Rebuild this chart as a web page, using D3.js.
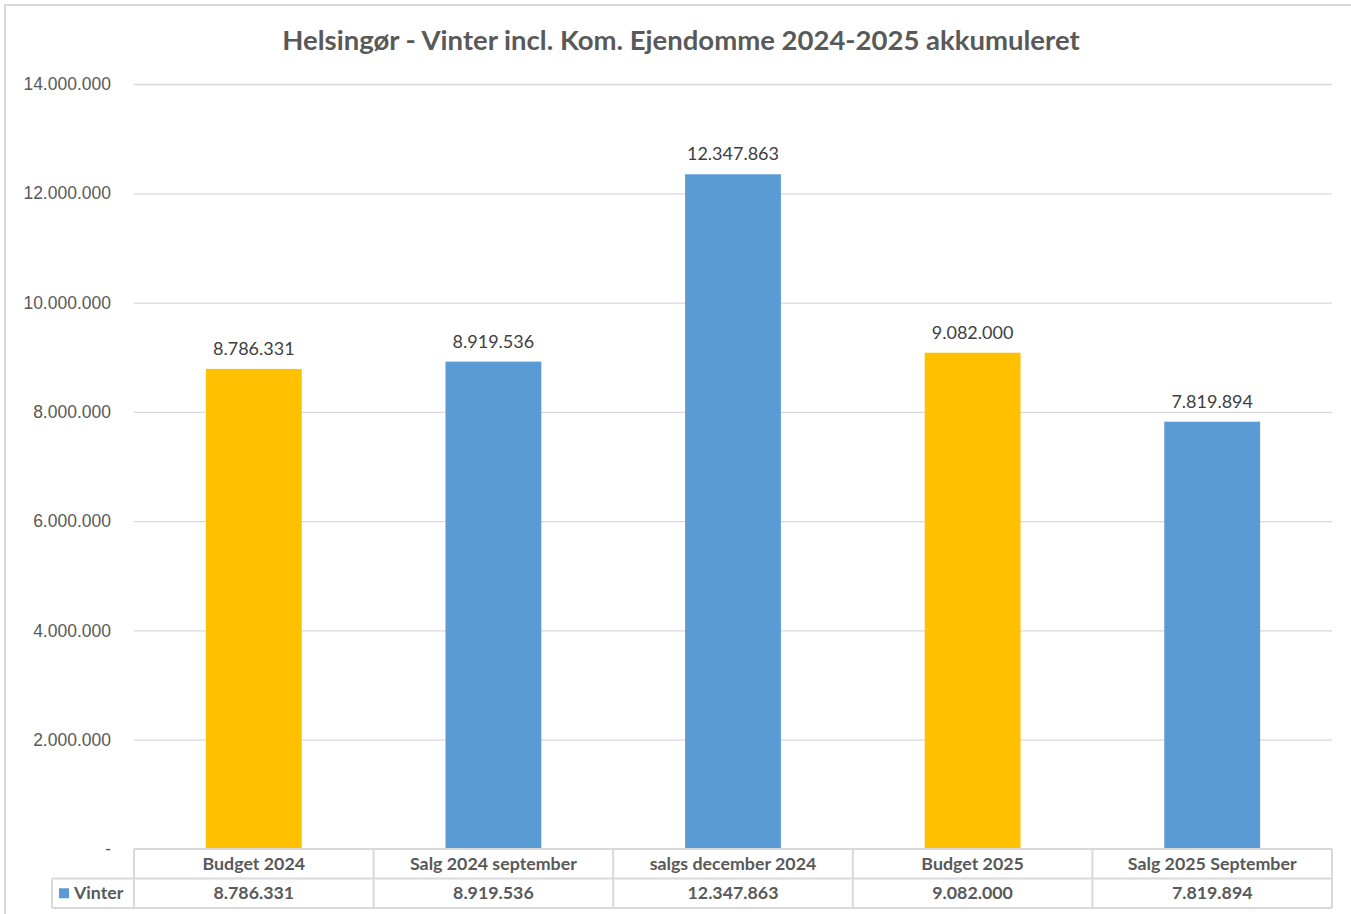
<!DOCTYPE html>
<html>
<head>
<meta charset="utf-8">
<script src="https://cdn.jsdelivr.net/npm/d3@7"></script>
<style>
  body { margin: 0; background: #fff; }
  svg { display: block; font-family: Lato, "Open Sans", sans-serif; }
  .grid line { stroke: #d9d9d9; stroke-width: 1.3; }
  .grid .domain { display: none; }
  .yaxis text { fill: #595959; font-size: 17.5px; }
  .yaxis .domain, .yaxis line { display: none; }
</style>
</head>
<body>
<div class="chart"></div>
<script>
// Chart values
const categories = ["Budget 2024", "Salg 2024 september", "salgs december 2024", "Budget 2025", "Salg 2025 September"];
const values = [8786331, 8919536, 12347863, 9082000, 7819894];
const isBudget = [true, false, false, true, false];
const yTicks = [0, 2000000, 4000000, 6000000, 8000000, 10000000, 12000000, 14000000];
const seriesName = "Vinter";
const title = "Helsingør - Vinter incl. Kom. Ejendomme 2024-2025 akkumuleret";

const width = 1351, height = 914;
const margin = {top: 84, left: 134, right: 19, bottom: 65};
const plotBottom = height - margin.bottom;  // 849
const rowH = 29.5;

const da = d3.formatLocale({decimal: ",", thousands: ".", grouping: [3], currency: ["", " kr"]});
const fmt = v => v === 0 ? "-" : da.format(",.0f")(v);

let svg = d3.select("div.chart")
    .append("svg")
    .attr("width", width)
    .attr("height", height);

// outer chart frame (only top and left visible in the crop)
svg.append("path")
    .attr("d", `M5,${height} V5 H${width}`)
    .attr("fill", "none")
    .attr("stroke", "#d9d9d9")
    .attr("stroke-width", 2);

let x = d3.scaleBand()
    .domain(categories)
    .range([margin.left, width - margin.right])
    .paddingInner(0.6)
    .paddingOuter(0.3);

let xCol = d3.scaleBand()
    .domain(categories)
    .range([margin.left, width - margin.right]);

let y = d3.scaleLinear()
    .domain([0, 14000000])
    .range([plotBottom, margin.top]);

// gridlines
svg.append("g")
    .attr("class", "grid")
    .attr("transform", `translate(${margin.left},0)`)
    .call(d3.axisLeft(y).tickValues(yTicks.slice(1)).tickSize(-(width - margin.left - margin.right)).tickFormat(""));

// y axis labels
svg.append("g")
    .attr("class", "yaxis")
    .attr("transform", `translate(${margin.left - 21},0)`)
    .call(d3.axisLeft(y).tickValues(yTicks).tickSize(0).tickPadding(2).tickFormat(fmt));

// title
svg.append("text")
    .attr("x", 681)
    .attr("y", 50)
    .attr("text-anchor", "middle")
    .attr("fill", "#595959")
    .attr("font-size", 27.5)
    .attr("font-weight", "bold")
    .text(title);

// bars
svg.append("g")
    .selectAll("rect")
    .data(categories)
    .enter()
    .append("rect")
    .attr("x", d => x(d))
    .attr("width", x.bandwidth())
    .attr("y", (d, i) => y(values[i]))
    .attr("height", (d, i) => y(0) - y(values[i]))
    .attr("fill", (d, i) => isBudget[i] ? "#ffc000" : "#5b9bd5");

// data labels
svg.append("g")
    .selectAll("text")
    .data(categories)
    .enter()
    .append("text")
    .attr("x", d => x(d) + x.bandwidth() / 2)
    .attr("y", (d, i) => y(values[i]) - 14)
    .attr("text-anchor", "middle")
    .attr("fill", "#404040")
    .attr("font-size", 18)
    .text((d, i) => fmt(values[i]));

// data table below the plot
let table = svg.append("g")
    .attr("stroke", "#d9d9d9")
    .attr("stroke-width", 2)
    .attr("fill", "none");

// horizontal rules
table.append("line")
    .attr("x1", margin.left).attr("x2", width - margin.right)
    .attr("y1", plotBottom).attr("y2", plotBottom);
table.append("line")
    .attr("x1", 52).attr("x2", width - margin.right)
    .attr("y1", plotBottom + rowH).attr("y2", plotBottom + rowH);
table.append("line")
    .attr("x1", 52).attr("x2", width - margin.right)
    .attr("y1", plotBottom + 2 * rowH).attr("y2", plotBottom + 2 * rowH);

// vertical rules
table.selectAll("line.col")
    .data(categories.concat(["end"]))
    .enter()
    .append("line")
    .attr("class", "col")
    .attr("x1", d => d === "end" ? width - margin.right : xCol(d))
    .attr("x2", d => d === "end" ? width - margin.right : xCol(d))
    .attr("y1", plotBottom)
    .attr("y2", plotBottom + 2 * rowH);
table.append("line")
    .attr("x1", 52).attr("x2", 52)
    .attr("y1", plotBottom + rowH).attr("y2", plotBottom + 2 * rowH);

// header texts
svg.append("g")
    .selectAll("text")
    .data(categories)
    .enter()
    .append("text")
    .attr("x", d => xCol(d) + xCol.bandwidth() / 2)
    .attr("y", plotBottom + rowH / 2 + 6)
    .attr("text-anchor", "middle")
    .attr("fill", "#595959")
    .attr("font-size", 17.8)
    .attr("font-weight", "bold")
    .text(d => d);

// value texts
svg.append("g")
    .selectAll("text")
    .data(categories)
    .enter()
    .append("text")
    .attr("x", d => xCol(d) + xCol.bandwidth() / 2)
    .attr("y", plotBottom + rowH * 1.5 + 6)
    .attr("text-anchor", "middle")
    .attr("fill", "#595959")
    .attr("font-size", 17.8)
    .attr("font-weight", "bold")
    .text((d, i) => fmt(values[i]));

// legend key in table
svg.append("rect")
    .attr("x", 59)
    .attr("y", plotBottom + rowH * 1.5 - 5)
    .attr("width", 10)
    .attr("height", 10)
    .attr("fill", "#5b9bd5");
svg.append("text")
    .attr("x", 74)
    .attr("y", plotBottom + rowH * 1.5 + 6)
    .attr("fill", "#595959")
    .attr("font-size", 17.8)
    .attr("font-weight", "bold")
    .text(seriesName);
</script>
</body>
</html>
